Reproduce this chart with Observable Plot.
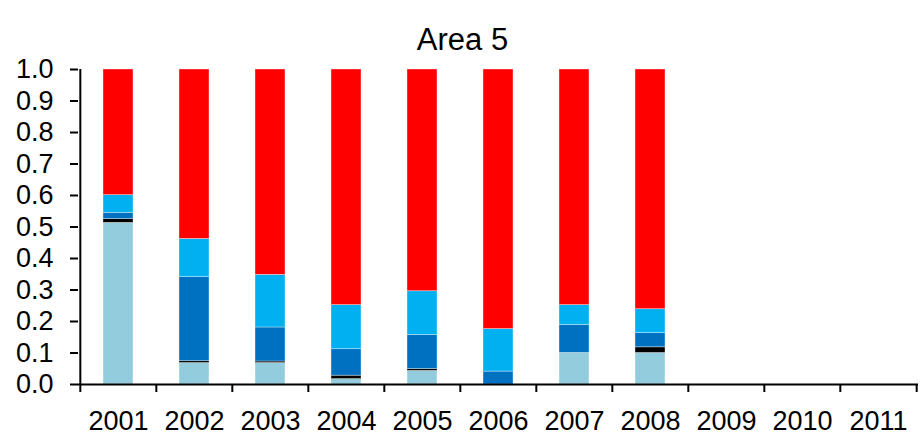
<!DOCTYPE html>
<html>
<head>
<meta charset="utf-8">
<script src="https://cdn.jsdelivr.net/npm/d3@7"></script>
<script src="https://cdn.jsdelivr.net/npm/@observablehq/plot@0.6"></script>
<style>
  html, body { margin: 0; padding: 0; background: #fff; }
</style>
</head>
<body>
<div id="chart"></div>
<script>
const title = "Area 5";
const years = ["2001","2002","2003","2004","2005","2006","2007","2008","2009","2010","2011"];
const seriesNames = ["Light blue", "Black", "Dark blue", "Cyan", "Red"];
const seriesColors = ["#93CDDD", "#000000", "#0070C0", "#00B0F0", "#FF0000"];
// values for 2001..2008 (no data for 2009-2011)
const lightBlue = [0.513, 0.068, 0.068, 0.017, 0.043, 0.000, 0.100, 0.100];
const black     = [0.012, 0.006, 0.005, 0.011, 0.006, 0.000, 0.000, 0.018];
const darkBlue  = [0.020, 0.267, 0.108, 0.084, 0.108, 0.041, 0.089, 0.045];
const cyan      = [0.056, 0.121, 0.167, 0.140, 0.139, 0.135, 0.063, 0.076];
const red       = [0.399, 0.538, 0.652, 0.748, 0.704, 0.824, 0.748, 0.761];
const yTicks = [0,0.1,0.2,0.3,0.4,0.5,0.6,0.7,0.8,0.9,1.0];

const seriesValues = [lightBlue, black, darkBlue, cyan, red];
const data = [];
seriesValues.forEach((vals, si) => {
  vals.forEach((v, i) => data.push({year: years[i], series: seriesNames[si], value: v}));
});

const W = 924, H = 438;
const mL = 78, mR = 6, mT = 69, mB = 54;
const step = (W - mL - mR) / years.length;

const chart = Plot.plot({
  width: W,
  height: H,
  marginLeft: mL,
  marginRight: mR,
  marginTop: mT,
  marginBottom: mB,
  style: {fontFamily: "Liberation Sans, Arial, sans-serif", fontSize: "27px", color: "#000", background: "#fff"},
  x: {type: "band", domain: years, paddingInner: 0.6, paddingOuter: 0.3, axis: null, label: null},
  y: {domain: [0, 1], axis: null, label: null},
  color: {domain: seriesNames, range: seriesColors},
  marks: [
    Plot.barY(data, Plot.stackY({x: "year", y: "value", fill: "series", stroke: "white", strokeOpacity: 0.5, strokeWidth: 0.7})),
    Plot.axisY({ticks: yTicks, label: null, tickSize: 8, tickPadding: 17, tickFormat: d3.format(".1f"), strokeWidth: 2, fontSize: 27}),
    Plot.ruleX([years[0]], {dx: -step / 2, stroke: "black", strokeWidth: 2}),
    Plot.ruleY([0], {stroke: "black", strokeWidth: 2}),
    Plot.axisX({ticks: years, label: null, tickSize: 8, tickFormat: () => "", dx: -step / 2, strokeWidth: 2}),
    Plot.axisX({ticks: [years[years.length - 1]], label: null, tickSize: 8, tickFormat: () => "", dx: step / 2, strokeWidth: 2}),
    Plot.axisX({ticks: years, label: null, tickSize: 0, tickPadding: 26, fontSize: 27}),
    Plot.text([title], {frameAnchor: "top", lineAnchor: "top", dx: (W / 2) - (mL + (W - mL - mR) / 2), dy: -42, fontSize: 31, fill: "black"})
  ]
});
document.getElementById("chart").appendChild(chart);
</script>
</body>
</html>
